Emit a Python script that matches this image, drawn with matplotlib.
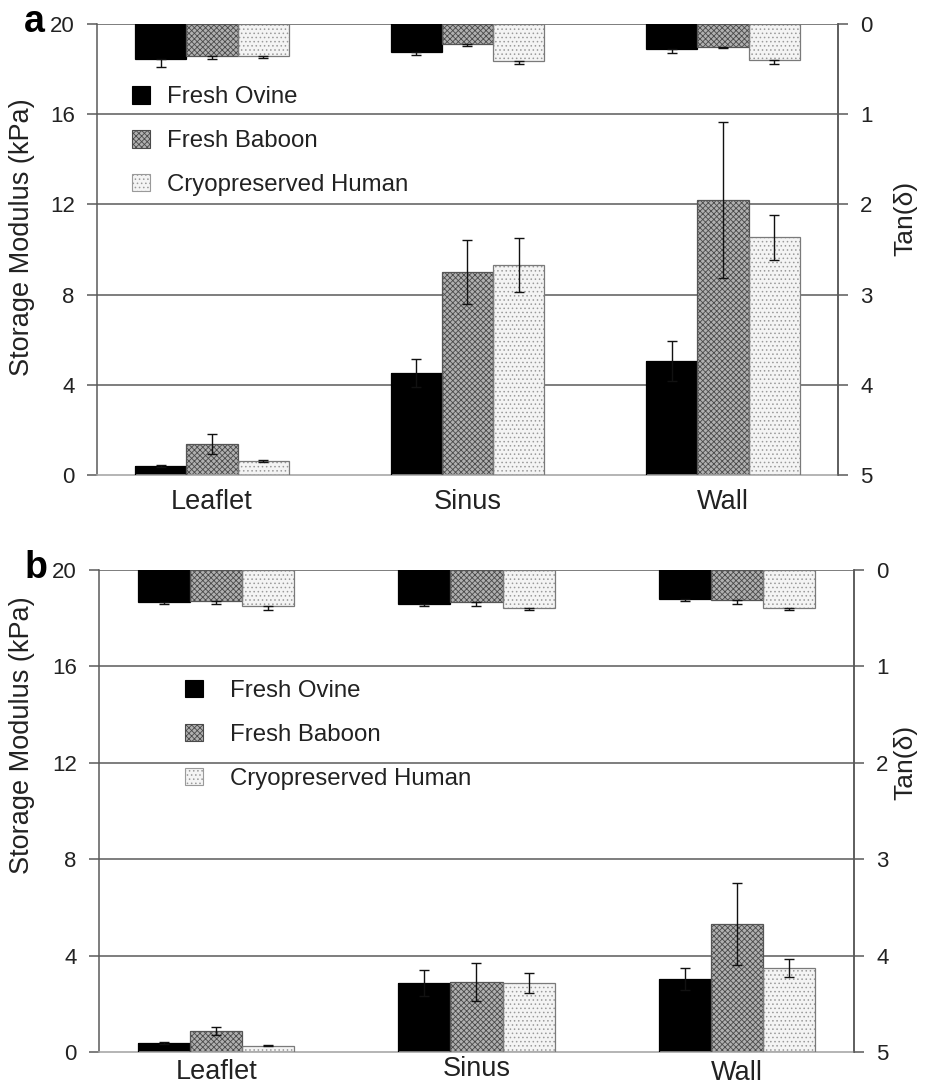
import numpy as np
import matplotlib
matplotlib.use("Agg")
import matplotlib.pyplot as plt
from matplotlib.patches import Patch
from matplotlib.transforms import blended_transform_factory

plt.rcParams['font.family'] = ['Liberation Sans', 'DejaVu Sans']
plt.rcParams['hatch.linewidth'] = 0.6

categories = ['Leaflet', 'Sinus', 'Wall']
series = ['Fresh Ovine', 'Fresh Baboon', 'Cryopreserved Human']

# Panel a
a_storage_ovine = [0.40, 4.52, 5.05]
a_storage_ovine_err = [0.05, 0.62, 0.90]
a_storage_baboon = [1.37, 9.00, 12.20]
a_storage_baboon_err = [0.45, 1.40, 3.45]
a_storage_human = [0.62, 9.30, 10.55]
a_storage_human_err = [0.05, 1.20, 1.00]
a_tan_ovine = [0.39, 0.31, 0.28]
a_tan_ovine_err = [0.09, 0.03, 0.04]
a_tan_baboon = [0.35, 0.22, 0.25]
a_tan_baboon_err = [0.04, 0.02, 0.02]
a_tan_human = [0.35, 0.41, 0.40]
a_tan_human_err = [0.03, 0.03, 0.04]

# Panel b
b_storage_ovine = [0.37, 2.86, 3.03]
b_storage_ovine_err = [0.05, 0.55, 0.45]
b_storage_baboon = [0.87, 2.90, 5.31]
b_storage_baboon_err = [0.17, 0.78, 1.72]
b_storage_human = [0.25, 2.86, 3.49]
b_storage_human_err = [0.02, 0.40, 0.38]
b_tan_ovine = [0.33, 0.35, 0.30]
b_tan_ovine_err = [0.02, 0.02, 0.02]
b_tan_baboon = [0.32, 0.33, 0.31]
b_tan_baboon_err = [0.03, 0.04, 0.04]
b_tan_human = [0.37, 0.39, 0.39]
b_tan_human_err = [0.05, 0.03, 0.03]

storage_ticks = [0, 4, 8, 12, 16, 20]
tan_ticks = [0, 1, 2, 3, 4, 5]

styles = [
    dict(face='black', hatch=None, hcol='black', edge='black'),
    dict(face='#b0b0b0', hatch='xxxxxx', hcol='#4a4a4a', edge='#555555'),
    dict(face='#f4f4f4', hatch='....', hcol='#9a9a9a', edge='#7a7a7a'),
]

GRID = '#5a5a5a'
W = 929
H = 1086
fig = plt.figure(figsize=(W / 100, H / 100), dpi=100)


def draw_bars(ax, x, vals, errs, st, tan=False):
    if tan:
        yerr = [np.zeros(len(errs)), errs]
    else:
        yerr = errs
    ax.bar(x, vals, width=0.2, color=st['face'], edgecolor=st['hcol'],
           hatch=st['hatch'], linewidth=0, zorder=2)
    ax.bar(x, vals, width=0.2, facecolor='none', edgecolor=st['edge'],
           linewidth=0.9, zorder=3)
    ax.errorbar(x, vals, yerr=yerr, fmt='none', ecolor='#111111',
                elinewidth=1.0, capsize=3.5, capthick=1.0, zorder=4)


def panel(rect, storage, storage_err, tan, tan_err, letter, leg_anchor,
          leg_textpad, ylab_y, tan_y, xlab_off):
    ax = fig.add_axes(rect)
    x = np.arange(len(categories))
    ax.set_xlim(-0.45, 2.45)
    ax.set_ylim(0, 20)
    ax.set_yticks(storage_ticks)
    for yv in storage_ticks[1:]:
        ax.axhline(yv, color=GRID, lw=1.1, zorder=1)
    for i, st in enumerate(styles):
        draw_bars(ax, x + (i - 1) * 0.2, storage[i], storage_err[i], st)
    ax.spines['top'].set_visible(False)
    ax.spines['left'].set_color(GRID)
    ax.spines['left'].set_linewidth(1.1)
    ax.spines['right'].set_color(GRID)
    ax.spines['right'].set_linewidth(1.1)
    ax.spines['bottom'].set_color('#a8a8a8')
    ax.spines['bottom'].set_linewidth(1.2)
    ax.tick_params(axis='y', direction='out', length=7, width=1.1,
                   color=GRID, labelsize=16, pad=9, labelcolor='#222222')
    ax.set_xticks(x)
    ax.set_xticklabels([])
    ax.tick_params(axis='x', length=0)
    trans = blended_transform_factory(ax.transData, ax.transAxes)
    for i, c in enumerate(categories):
        ax.text(x[i], xlab_off[i], c, transform=trans, ha='center',
                va='top', fontsize=19.5, color='#222222')

    ax2 = ax.twinx()
    ax2.set_ylim(5, 0)
    ax2.set_yticks(tan_ticks)
    ax2.spines['right'].set_color(GRID)
    ax2.spines['right'].set_linewidth(1.1)
    for s in ['top', 'left', 'bottom']:
        ax2.spines[s].set_visible(False)
    ax2.tick_params(axis='y', direction='out', length=7, width=1.1,
                    color=GRID, labelsize=16, pad=9, labelcolor='#222222')
    for i, st in enumerate(styles):
        draw_bars(ax2, x + (i - 1) * 0.2, tan[i], tan_err[i], st, tan=True)

    handles = [Patch(facecolor=st['face'], edgecolor=st['hcol'],
                     hatch=st['hatch'], linewidth=0.8, label=series[i])
               for i, st in enumerate(styles)]
    leg = ax2.legend(handles=handles, loc='upper left',
                     bbox_to_anchor=leg_anchor, frameon=False, fontsize=17.3,
                     handlelength=0.75, handleheight=0.75,
                     handletextpad=leg_textpad, labelspacing=0.9,
                     borderpad=0, borderaxespad=0)
    for t in leg.get_texts():
        t.set_color('#222222')

    l, b, w, h = rect
    fig.text(0.024, ylab_y, 'Storage Modulus (kPa)', rotation=90,
             ha='center', va='center', fontsize=19.5, color='#222222')
    fig.text(0.975, tan_y, 'Tan(δ)', rotation=90, ha='center', va='center',
             fontsize=19, color='#222222')
    fig.text(0.026, b + h + 0.002, letter, ha='left', va='center',
             fontsize=27, fontweight='bold', color='black')
    return ax, ax2


panel([97 / W, 1 - 475 / H, (838 - 97) / W, (475 - 24) / H],
      [a_storage_ovine, a_storage_baboon, a_storage_human],
      [a_storage_ovine_err, a_storage_baboon_err, a_storage_human_err],
      [a_tan_ovine, a_tan_baboon, a_tan_human],
      [a_tan_ovine_err, a_tan_baboon_err, a_tan_human_err],
      'a', (0.047, 0.862), 0.7, 1 - 237 / H, 1 - 218 / H,
      [-0.03, -0.03, -0.03])

panel([99 / W, 1 - 1052 / H, (854 - 99) / W, (1052 - 570) / H],
      [b_storage_ovine, b_storage_baboon, b_storage_human],
      [b_storage_ovine_err, b_storage_baboon_err, b_storage_human_err],
      [b_tan_ovine, b_tan_baboon, b_tan_human],
      [b_tan_ovine_err, b_tan_baboon_err, b_tan_human_err],
      'b', (0.114, 0.772), 1.1, 1 - 735 / H, 1 - 762 / H,
      [-0.015, -0.009, -0.016])

fig.savefig('out.png', dpi=100, facecolor='white')
